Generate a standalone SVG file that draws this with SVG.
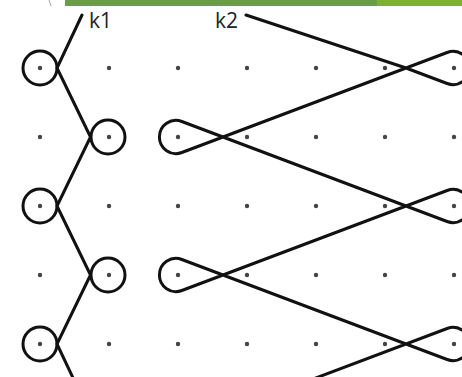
<svg xmlns="http://www.w3.org/2000/svg" width="462" height="377" viewBox="0 0 462 377">
<style>
.ln{fill:none;stroke:#111;stroke-width:3;stroke-linejoin:round;stroke-linecap:round}
.dot{fill:#444}
.lbl{font-family:"Open Sans","Liberation Sans",sans-serif;font-size:21px;fill:#222}
</style>
<rect width="462" height="377" fill="#fff"/>
<g id="header">
<rect x="65" y="0" width="312" height="6" fill="#6b9b4c"/>
<rect x="377" y="0" width="85" height="6" fill="#7db12f"/>
<line x1="49" y1="0" x2="51" y2="6" stroke="#aaa" stroke-width="1"/>
</g>
<g id="dots">
<g class="dot">
<circle cx="40" cy="68" r="2.2"/><circle cx="109" cy="68" r="2.2"/><circle cx="178" cy="68" r="2.2"/><circle cx="247" cy="68" r="2.2"/><circle cx="316" cy="68" r="2.2"/><circle cx="385" cy="68" r="2.2"/><circle cx="454" cy="68" r="2.2"/>
<circle cx="40" cy="137" r="2.2"/><circle cx="109" cy="137" r="2.2"/><circle cx="178" cy="137" r="2.2"/><circle cx="247" cy="137" r="2.2"/><circle cx="316" cy="137" r="2.2"/><circle cx="385" cy="137" r="2.2"/><circle cx="454" cy="137" r="2.2"/>
<circle cx="40" cy="206" r="2.2"/><circle cx="109" cy="206" r="2.2"/><circle cx="178" cy="206" r="2.2"/><circle cx="247" cy="206" r="2.2"/><circle cx="316" cy="206" r="2.2"/><circle cx="385" cy="206" r="2.2"/><circle cx="454" cy="206" r="2.2"/>
<circle cx="40" cy="275" r="2.2"/><circle cx="109" cy="275" r="2.2"/><circle cx="178" cy="275" r="2.2"/><circle cx="247" cy="275" r="2.2"/><circle cx="316" cy="275" r="2.2"/><circle cx="385" cy="275" r="2.2"/><circle cx="454" cy="275" r="2.2"/>
<circle cx="40" cy="344" r="2.2"/><circle cx="109" cy="344" r="2.2"/><circle cx="178" cy="344" r="2.2"/><circle cx="247" cy="344" r="2.2"/><circle cx="316" cy="344" r="2.2"/><circle cx="385" cy="344" r="2.2"/><circle cx="454" cy="344" r="2.2"/>
</g>
</g>
<g id="k1-circles" class="ln">
<circle cx="40" cy="68" r="17"/>
<circle cx="108" cy="137" r="17"/>
<circle cx="40" cy="206" r="17"/>
<circle cx="108" cy="275" r="17"/>
<circle cx="40" cy="344" r="17"/>
</g>
<g id="labels">
<text class="lbl" x="89" y="27.5">k1</text>
<text class="lbl" x="215" y="27.5">k2</text>
</g>
<g id="connectors">
<path id="k1-strand" class="ln" d="M 82 15 L 57 68 L 90.5 137 L 57 206 L 90.5 275 L 57 344 L 74 380"/>
<path id="k2-strand" class="ln" d="M 246 15 L 406 68 L 447.15 83.52 A 16.59 16.59 0 1 0 447.15 52.48 L 223 137 L 181.85 152.52 A 16.59 16.59 0 1 1 181.85 121.48 L 406 206 L 447.15 221.52 A 16.59 16.59 0 1 0 447.15 190.48 L 223 275 L 181.85 290.52 A 16.59 16.59 0 1 1 181.85 259.48 L 406 344 L 447.15 359.52 A 16.59 16.59 0 1 0 447.15 328.48 L 310.5 380"/>
</g>
</svg>
